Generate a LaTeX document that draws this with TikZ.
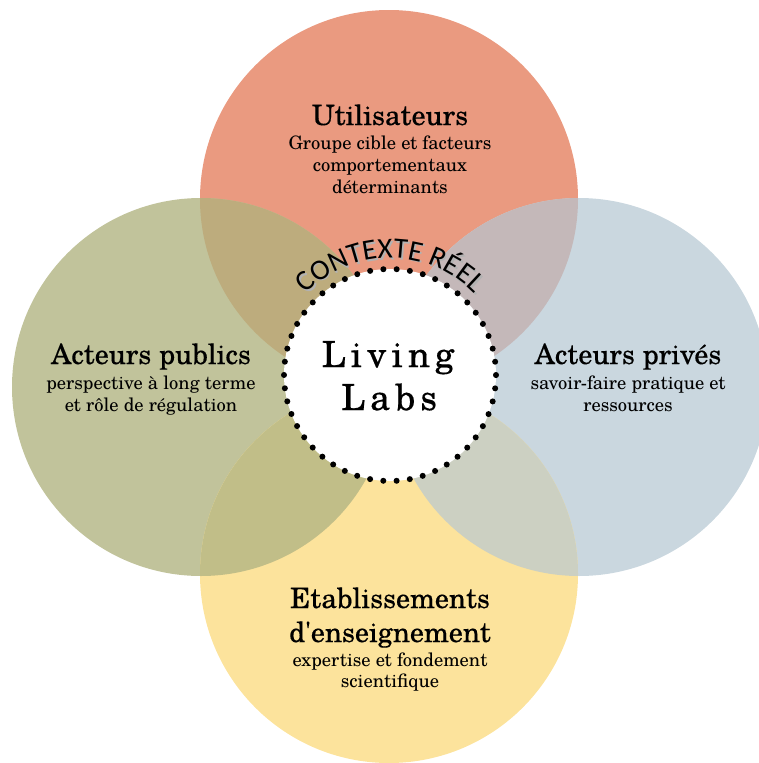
\documentclass[tikz,border=0pt]{standalone}
\usepackage{fontspec}
\setmainfont{texgyreschola}[Extension=.otf, UprightFont=*-regular, BoldFont=*-bold, ItalicFont=*-italic, BoldItalicFont=*-bolditalic, Ligatures=TeXOff]
\newfontfamily\ctxfont{Carlito}
\usetikzlibrary{calc,decorations.text}
\definecolor{ctop}{HTML}{EA9A80}
\definecolor{cleft}{HTML}{C1C39B}
\definecolor{cright}{HTML}{CAD7DF}
\definecolor{cbot}{HTML}{FCE39C}
\definecolor{ctl}{HTML}{BDAC7D}
\definecolor{ctr}{HTML}{C4B8B9}
\definecolor{cbl}{HTML}{C1BE88}
\definecolor{cbr}{HTML}{CCD0C2}
\tikzset{
  ttl/.style={anchor=base, inner sep=0pt, font=\fontsize{28}{28}\selectfont\addfontfeature{FakeBold=0.3}},
  sub/.style={anchor=base, inner sep=0pt, font=\fontsize{18.5}{18.5}\selectfont},
  big/.style={anchor=base, inner sep=0pt, font=\fontsize{36}{36}\selectfont\addfontfeature{LetterSpace=14,FakeBold=0.4}},
  dotring/.style={draw=black, line width=6pt, line cap=round, dash pattern=on 0pt off 13.3195pt},
}
\begin{document}
\begin{tikzpicture}[x=1pt,y=1pt]
\useasboundingbox (0,0) rectangle (759,-763);
\coordinate (ct) at (389,-199);
\coordinate (cl) at (201,-387);
\coordinate (cr) at (579,-387);
\coordinate (cb) at (389,-574);
\coordinate (cc) at (390,-375);
% circles
\fill[ctop] (ct) circle (189);
\fill[cleft] (cl) circle (189);
\fill[cright] (cr) circle (189);
\fill[cbot] (cb) circle (189);
% overlaps
\begin{scope}\clip (ct) circle (189); \fill[ctl] (cl) circle (189); \end{scope}
\begin{scope}\clip (ct) circle (189); \fill[ctr] (cr) circle (189); \end{scope}
\begin{scope}\clip (cb) circle (189); \fill[cbl] (cl) circle (189); \end{scope}
\begin{scope}\clip (cb) circle (189); \fill[cbr] (cr) circle (189); \end{scope}
% centre
\fill[white] (cc) circle (106);
\draw[dotring] (cc) circle (106);
% arc text with shadow
\path[decorate, decoration={text along path, text align=center,
  text={|\ctxfont\fontsize{29}{29}\selectfont\color{black!30}|CONTEXTE RÉEL}}]
  ($(cc)+(1.8,-1.8)+(137:117)$) arc[start angle=137, end angle=43, radius=117];
\path[decorate, decoration={text along path, text align=center,
  text={|\ctxfont\fontsize{29}{29}\selectfont|CONTEXTE RÉEL}}]
  ($(cc)+(137:117)$) arc[start angle=137, end angle=43, radius=117];
% Living Labs
\node[big] (liv) at (388,-367) {Living};
\node[big] (labs) at (389,-410) {Labs};
% top
\node[ttl] (u1) at (390,-125) {Utilisateurs};
\node[sub] (u2) at (390,-149) {Groupe cible et facteurs};
\node[sub] (u3) at (390,-171) {comportementaux};
\node[sub] (u4) at (390,-193) {déterminants};
% left
\node[ttl] (p1) at (151,-364) {Acteurs publics};
\node[sub] (p2) at (151,-389) {perspective à long terme};
\node[sub] (p3) at (151,-411) {et rôle de régulation};
% right
\node[ttl] (r1) at (628,-364) {Acteurs privés};
\node[sub] (r2) at (628,-389) {savoir-faire pratique et};
\node[sub] (r3) at (628,-411) {ressources};
% bottom
\node[ttl] (e1) at (390,-608) {Etablissements};
\node[ttl] (e2) at (390,-642) {d'enseignement};
\node[sub] (e3) at (390,-666) {expertise et fondement};
\node[sub] (e4) at (390,-687) {scientifique};
\end{tikzpicture}
\end{document}
